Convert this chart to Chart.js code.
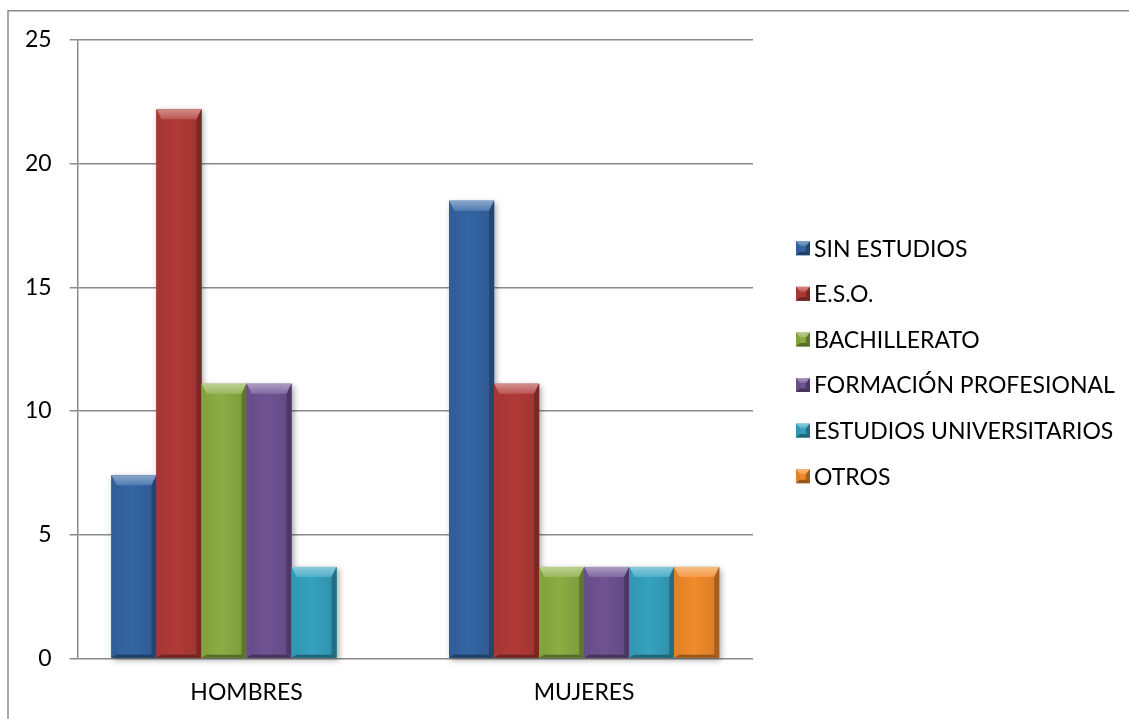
<!DOCTYPE html>
<html>
<head>
<meta charset="utf-8">
<script src="https://cdn.jsdelivr.net/npm/chart.js@4/dist/chart.umd.min.js"></script>
<style>
  html, body { margin: 0; padding: 0; background: #fff; }
  #chart { display: block; }
</style>
</head>
<body>
<canvas id="chart" width="1129" height="719"></canvas>
<script>
const categories = ['HOMBRES', 'MUJERES'];
const seriesNames = ['SIN ESTUDIOS', 'E.S.O.', 'BACHILLERATO', 'FORMACIÓN PROFESIONAL', 'ESTUDIOS UNIVERSITARIOS', 'OTROS'];
const sinEstudios = [7.4, 18.5];
const eso = [22.2, 11.1];
const bachillerato = [11.1, 3.7];
const formacionProfesional = [11.1, 3.7];
const estudiosUniversitarios = [3.7, 3.7];
const otros = [0, 3.7];
const seriesColors = ['#3465a4', '#b13a37', '#8bad43', '#6f5393', '#35a2c0', '#f28b2b'];
const yTicks = [0, 5, 10, 15, 20, 25];

const FONT = { family: 'Lato', size: 23 };
const GRID = '#8a8a8a';

// mix a hex colour toward white (amt > 0) or black (amt < 0)
function shade(hex, amt) {
    const n = parseInt(hex.slice(1), 16);
    const target = amt < 0 ? 0 : 255;
    const p = Math.abs(amt);
    const c = [n >> 16, (n >> 8) & 255, n & 255].map(v => Math.round(v + (target - v) * p));
    return `rgb(${c[0]},${c[1]},${c[2]})`;
}

function poly(ctx, pts, fill) {
    ctx.beginPath();
    ctx.moveTo(pts[0][0], pts[0][1]);
    pts.slice(1).forEach(p => ctx.lineTo(p[0], p[1]));
    ctx.closePath();
    ctx.fillStyle = fill;
    ctx.fill();
}

// bevelled block: light top edge, darker right and bottom edges
function drawBevel(ctx, l, t, w, h, color, side, top, bottom) {
    const r = l + w, b = t + h;
    top = Math.min(top, h / 2);
    bottom = Math.min(bottom, h / 4);
    ctx.save();
    const face = ctx.createLinearGradient(l, 0, r, 0);
    face.addColorStop(0, shade(color, -0.08));
    face.addColorStop(0.45, color);
    face.addColorStop(1, shade(color, -0.12));
    ctx.fillStyle = face;
    ctx.fillRect(l, t, w, h);

    const topGrad = ctx.createLinearGradient(0, t, 0, t + top);
    topGrad.addColorStop(0, shade(color, 0.42));
    topGrad.addColorStop(1, shade(color, 0.14));
    poly(ctx, [[l, t], [r, t], [r - side, t + top], [l + side, t + top]], topGrad);
    poly(ctx, [[l, t], [l + side, t + top], [l + side, b - bottom], [l, b]], shade(color, -0.06));
    poly(ctx, [[r, t], [r - side, t + top], [r - side, b - bottom], [r, b]], shade(color, -0.32));
    poly(ctx, [[l, b], [l + side, b - bottom], [r - side, b - bottom], [r, b]], shade(color, -0.38));
    ctx.restore();
}

function eachBar(chart, fn) {
    chart.data.datasets.forEach((ds, i) => {
        chart.getDatasetMeta(i).data.forEach(bar => {
            const { x, y, base, width } = bar.getProps(['x', 'y', 'base', 'width'], true);
            if (base - y < 0.5) return;
            fn(x - width / 2, y, width, base - y, seriesColors[i]);
        });
    });
}

const frame = {
    id: 'frame',
    beforeDraw(chart) {
        const { ctx, width, height } = chart;
        ctx.save();
        ctx.fillStyle = '#fff';
        ctx.fillRect(0, 0, width, height);
        ctx.strokeStyle = GRID;
        ctx.lineWidth = 1.5;
        ctx.beginPath();
        ctx.moveTo(8, height);
        ctx.lineTo(8, 10.8);
        ctx.lineTo(width, 10.8);
        ctx.stroke();
        ctx.restore();
    }
};

const bevelBars = {
    id: 'bevelBars',
    beforeDatasetsDraw(chart) {
        const ctx = chart.ctx;
        ctx.save();
        ctx.shadowColor = 'rgba(0,0,0,0.35)';
        ctx.shadowBlur = 6;
        ctx.shadowOffsetX = 2;
        ctx.shadowOffsetY = 2;
        ctx.fillStyle = '#fff';
        eachBar(chart, (l, t, w, h) => ctx.fillRect(l, t, w, h));
        ctx.restore();
    },
    afterDatasetsDraw(chart) {
        eachBar(chart, (l, t, w, h, color) => drawBevel(chart.ctx, l, t, w, h, color, 5, 10, 3));
    }
};

// legend to the right of the plot, boxes drawn with the same bevel
const sideLegend = {
    id: 'sideLegend',
    afterDraw(chart) {
        const { ctx, chartArea } = chart;
        const step = 45.6;
        const n = chart.data.datasets.length;
        const x = chartArea.right + 43;
        const firstY = (chartArea.top + chartArea.bottom) / 2 + 13 - step * (n - 1) / 2;
        ctx.save();
        ctx.font = `${FONT.size}px ${FONT.family}`;
        ctx.textBaseline = 'middle';
        chart.data.datasets.forEach((ds, i) => {
            const cy = firstY + i * step;
            drawBevel(ctx, x, cy - 7, 14, 14, seriesColors[i], 4, 5, 4);
            ctx.fillStyle = '#000';
            ctx.fillText(ds.label, x + 18, cy + 1);
        });
        ctx.restore();
    }
};

const seriesValues = [sinEstudios, eso, bachillerato, formacionProfesional, estudiosUniversitarios, otros];

new Chart(document.getElementById('chart'), {
    type: 'bar',
    data: {
        labels: categories,
        datasets: seriesNames.map((name, i) => ({
            label: name,
            data: seriesValues[i],
            backgroundColor: seriesColors[i],
            borderWidth: 0,
            categoryPercentage: 0.8,
            barPercentage: 1
        }))
    },
    options: {
        responsive: false,
        animation: false,
        layout: { padding: { top: 40, left: 7, right: 376, bottom: -7 } },
        scales: {
            x: {
                grid: { display: false, drawTicks: false },
                border: { display: false },
                ticks: { color: '#000', font: FONT, padding: 20 }
            },
            y: {
                min: 0,
                max: 25,
                afterBuildTicks: axis => { axis.ticks = yTicks.map(v => ({ value: v })); },
                ticks: { color: '#000', font: FONT, padding: 18 },
                grid: { color: GRID, lineWidth: 1.5, tickLength: 8 },
                border: { color: GRID, width: 1.5 }
            }
        },
        plugins: {
            legend: { display: false },
            tooltip: { enabled: false }
        }
    },
    plugins: [frame, bevelBars, sideLegend]
});
</script>
</body>
</html>
